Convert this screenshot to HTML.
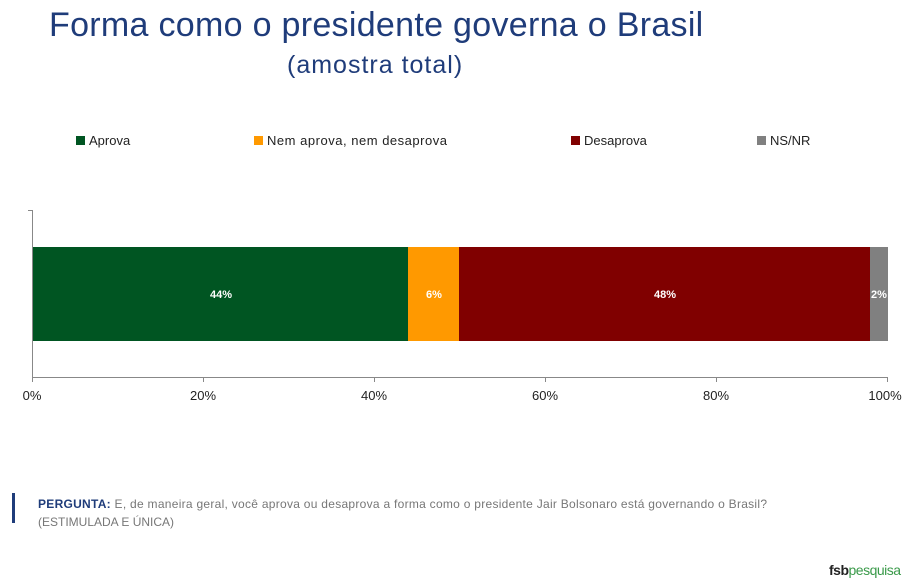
<!DOCTYPE html>
<html><head><meta charset="utf-8"><style>
body{margin:0;width:918px;height:585px;background:#fff;position:relative;overflow:hidden;font-family:"Liberation Sans",sans-serif}
.a{position:absolute;white-space:nowrap}
</style></head><body>
<div class="a" style="left:49px;top:6px;font-size:34px;letter-spacing:0.3px;color:#1f3c7a">Forma como o presidente governa o Brasil</div>
<div class="a" style="left:287px;top:51px;font-size:25px;letter-spacing:1px;color:#1f3c7a">(amostra total)</div>
<svg class="a" style="left:0;top:0" width="918" height="585">
<g font-size="13" fill="#222">
<rect x="76" y="136" width="9" height="9" fill="#005522"/><text x="89" y="145">Aprova</text>
<rect x="254" y="136" width="9" height="9" fill="#ff9900"/><text x="267" y="145" textLength="180">Nem aprova, nem desaprova</text>
<rect x="571" y="136" width="9" height="9" fill="#800000"/><text x="584" y="145">Desaprova</text>
<rect x="757" y="136" width="9" height="9" fill="#808080"/><text x="770" y="145">NS/NR</text>
</g>
<line x1="32.5" y1="210" x2="32.5" y2="377" stroke="#888"/>
<line x1="28" y1="210.5" x2="33" y2="210.5" stroke="#888"/>
<line x1="32" y1="377.5" x2="888" y2="377.5" stroke="#888"/>
<g stroke="#888"><line x1="32.5" y1="377" x2="32.5" y2="382"/><line x1="203.5" y1="377" x2="203.5" y2="382"/><line x1="374.5" y1="377" x2="374.5" y2="382"/><line x1="545.5" y1="377" x2="545.5" y2="382"/><line x1="716.5" y1="377" x2="716.5" y2="382"/><line x1="887.5" y1="377" x2="887.5" y2="382"/></g>
<rect x="33" y="247" width="375" height="94" fill="#005522"/>
<rect x="408" y="247" width="51" height="94" fill="#ff9900"/>
<rect x="459" y="247" width="411" height="94" fill="#800000"/>
<rect x="870" y="247" width="18" height="94" fill="#808080"/>
<g font-size="11" font-weight="bold" fill="#fff" text-anchor="middle">
<text x="221" y="298">44%</text><text x="434" y="298">6%</text><text x="665" y="298">48%</text><text x="879" y="298">2%</text></g>
<g font-size="13" fill="#222" text-anchor="middle">
<text x="32" y="400">0%</text><text x="203" y="400">20%</text><text x="374" y="400">40%</text><text x="545" y="400">60%</text><text x="716" y="400">80%</text><text x="885" y="400">100%</text></g>
<rect x="12" y="493" width="3" height="30" fill="#1f3c7a"/>
<text x="38" y="508" font-size="12" fill="#777" textLength="729"><tspan font-weight="bold" fill="#1f3c7a">PERGUNTA:</tspan> E, de maneira geral, você aprova ou desaprova a forma como o presidente Jair Bolsonaro está governando o Brasil?</text>
</svg>
<div class="a" style="left:38px;top:515px;font-size:12px;color:#777">(ESTIMULADA E ÚNICA)</div>
<div class="a" style="left:829px;top:562px;font-size:14px;letter-spacing:-0.5px"><b style="color:#222">fsb</b><span style="color:#3a9a4a">pesquisa</span></div>
</body></html>
